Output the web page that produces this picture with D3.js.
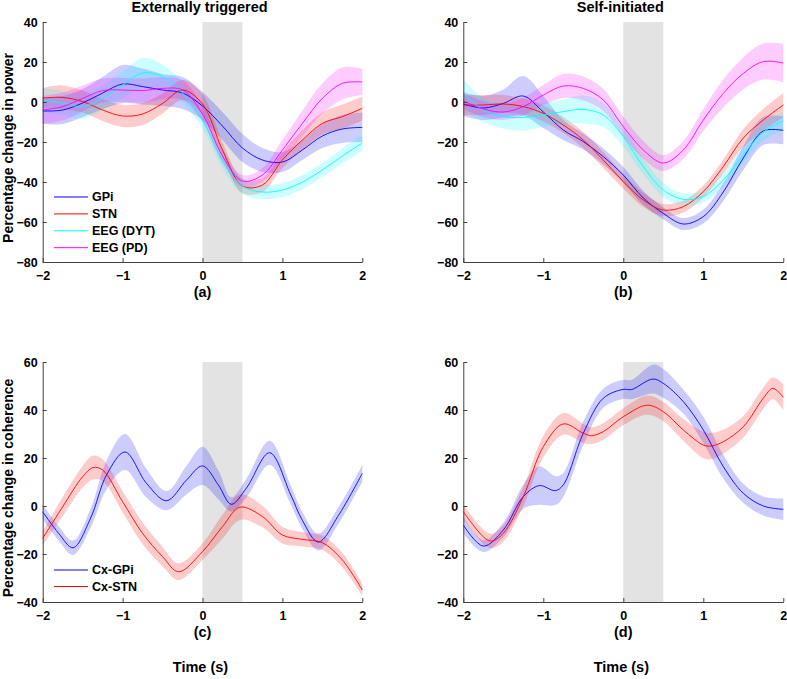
<!DOCTYPE html>
<html>
<head>
<meta charset="utf-8">
<script src="https://cdn.jsdelivr.net/npm/d3@7"></script>
<style>
  body { margin: 0; background: #fff; }
  svg { display: block; }
  text { font-family: "Liberation Sans", Arial, Helvetica, sans-serif; font-weight: bold; fill: #000; }
</style>
</head>
<body>
<svg id="chart" width="787" height="679"></svg>
<script>
// ---------------- DATA ----------------
const xTicks = [-2, -1, 0, 1, 2];
const powerTicks = [-80, -60, -40, -20, 0, 20, 40];
const cohTicks = [-40, -20, 0, 20, 40, 60];
const movementWindow = [0, 0.5];

const panelTitles = ["Externally triggered", "Self-initiated"];
const panelLetters = ["(a)", "(b)", "(c)", "(d)"];
const powerLabel = "Percentage change in power";
const cohLabel = "Percentage change in coherence";
const timeLabel = "Time (s)";

const powerNames = ["GPi", "STN", "EEG (DYT)", "EEG (PD)"];
const cohNames = ["Cx-GPi", "Cx-STN"];

// Power panels share one time grid
const timePow = [-2, -1.75, -1.5, -1.25, -1, -0.75, -0.5, -0.25, 0, 0.25, 0.5, 0.75, 1, 1.25, 1.5, 1.75, 2];

// (a) Externally triggered
const gpiA     = [-4.5, -4, -0.5, 4.5, 9, 7.7, 6, 4.5, -2, -12, -23, -29, -30, -24, -17, -13.5, -12.7];
const gpiAErr  = [6.5, 7, 7, 8, 9.5, 9, 8, 8, 7, 7, 7, 6, 5, 5, 6, 7, 7.5];
const stnA     = [2, 2.3, 0.2, -4, -7, -6, -0.7, 6, -1, -24, -42, -41.5, -29, -19, -10.7, -7.3, -3.2];
const stnAErr  = [5, 6, 5.5, 5.5, 5.5, 5.5, 5, 5, 5, 4, 3.5, 3.5, 4, 5, 5.5, 6, 6];
const dytA     = [1, -0.5, -2.3, 2, 8.5, 14.5, 12.7, 4.5, -9, -29, -42, -45, -44, -40, -34, -27, -20.5];
const dytAErr  = [6, 6, 6, 6, 6.5, 7.5, 6, 5, 4, 4, 4, 3.5, 3.5, 3.5, 3.5, 3.8, 4];
const pdA      = [-4, -2.3, 1.8, 5.7, 6, 5.7, 6.8, 6, -6, -27, -39.5, -36.5, -24, -10.7, 1.8, 9.3, 10];
const pdAErr   = [7, 7, 6.5, 6, 6, 6, 5.5, 5, 4, 3.5, 3, 3.5, 5, 6.5, 7.5, 8, 6.5];

// (b) Self-initiated
const gpiB     = [-1, -3, -0.7, 3, -5, -14, -19.8, -27.3, -36.5, -48, -55.7, -61, -57.3, -45, -28, -14.5, -14.2];
const gpiBErr  = [6, 6, 7, 10, 8, 5, 4, 4, 4, 3.5, 3, 3, 3.5, 4.5, 6, 7, 7];
const stnB     = [-1.5, -1.5, -1, -2.3, -5.7, -11.5, -19, -29, -39.8, -49, -54, -52.3, -44.8, -32.3, -18, -9, -1.5];
const stnBErr  = [5, 5, 4.5, 4, 4, 4, 4, 4, 3.5, 3.5, 3, 3, 3, 3.5, 4.5, 5.5, 6];
const dytB     = [4.3, -4, -7.3, -7.7, -6.5, -4.8, -3.7, -6.5, -17.3, -32.3, -44, -48.7, -47.3, -39, -26.5, -15, -9.5];
const dytBErr  = [7, 6, 6, 6.5, 6, 6, 7, 6, 5, 4, 3.5, 3, 3, 3.5, 4, 4.5, 4.5];
const pdB      = [0.5, -3.5, -5, -2.3, 3.5, 8, 6.8, 1, -12.3, -24, -30.5, -24, -9, 4.3, 14.3, 20.2, 19.5];
const pdBErr   = [4, 4, 4, 4.5, 5, 6, 6, 5.5, 5, 4.5, 4, 4.5, 5.5, 7, 8, 9, 9.5];

// (c) Externally triggered coherence
const cxGpiCT   = [-2, -1.8, -1.62, -1.4, -1.2, -0.97, -0.7, -0.45, -0.2, 0, 0.2, 0.36, 0.55, 0.84, 1.1, 1.25, 1.45, 1.7, 2];
const cxGpiC    = [-2.4, -11.4, -17.4, -5, 13, 22.5, 9.4, 2.2, 10.8, 16.7, 8.7, 0.7, 7.5, 22.2, 5, -6, -15, -4, 13.6];
const cxGpiCErr = [3, 3, 3, 4, 6, 7.5, 6, 4, 6, 8, 6, 3, 4, 5, 4, 3.5, 3.5, 3.5, 3.5];
const cxStnCT   = [-2, -1.75, -1.5, -1.37, -1.25, -1, -0.75, -0.5, -0.3, 0, 0.25, 0.47, 0.75, 1, 1.25, 1.5, 1.75, 2];
const cxStnC    = [-13.5, -0.3, 12.2, 16, 15, 1.8, -11.4, -21.1, -27.4, -19, -8.6, -0.5, -4.4, -12.1, -13.9, -15.3, -22.5, -35];
const cxStnCErr = [3, 4, 4.5, 5, 4.5, 4.5, 4.5, 4, 3.5, 3.5, 5, 5.3, 4.5, 3.5, 3, 3, 3, 2.5];

// (d) Self-initiated coherence
const cxGpiDT   = [-2, -1.75, -1.5, -1.25, -1.05, -0.85, -0.75, -0.5, -0.25, 0, 0.1, 0.37, 0.5, 0.75, 1, 1.25, 1.5, 1.75, 2];
const cxGpiD    = [-7.9, -16.7, -10, 3.9, 8.5, 6.4, 8.8, 30.3, 44.9, 48.6, 48.5, 52.9, 51.1, 43.5, 31.7, 16.4, 5.3, 0, -1.4];
const cxGpiDErr = [3.5, 2.5, 3, 5, 8, 6, 5, 5, 4, 4, 4, 6, 6, 5, 5.5, 5, 4, 4, 4.5];
const cxStnDT   = [-2, -1.75, -1.65, -1.5, -1.25, -1, -0.75, -0.5, -0.4, -0.25, 0, 0.3, 0.5, 0.75, 1, 1.1, 1.25, 1.5, 1.75, 1.87, 2];
const cxStnD    = [-2.4, -12.8, -14.6, -11.4, 3.9, 24.7, 34.2, 30.3, 29.3, 31, 37.2, 42, 39.3, 31.7, 25.4, 25, 26.8, 33, 44.9, 49, 45.3];
const cxStnDErr = [3, 3, 3, 3.5, 4, 4.5, 4.5, 4, 3.5, 3.5, 3.5, 4, 4, 4.5, 5.5, 5.5, 5, 4.5, 4.5, 4.5, 5.5];

// ---------------- STYLE ----------------
const colBlue = "#0000ff", colRed = "#ff0000", colCyan = "#00ffff", colMag = "#ff00ff";
const bandOpacity = 0.2;
const axisColor = "#404040";

const svg = d3.select("#chart");

function zipSeries(t, v, e) { return t.map((tt, i) => ({ t: tt, v: v[i], e: e[i] })); }

const panels = [
  { x0: 42.7, x1: 362.3, y0: 22, y1: 262, dom: [-80, 40], ticks: powerTicks,
    series: [
      { d: zipSeries(timePow, gpiA, gpiAErr), c: colBlue },
      { d: zipSeries(timePow, stnA, stnAErr), c: colRed },
      { d: zipSeries(timePow, dytA, dytAErr), c: colCyan },
      { d: zipSeries(timePow, pdA, pdAErr), c: colMag } ] },
  { x0: 463.3, x1: 783.3, y0: 22, y1: 262, dom: [-80, 40], ticks: powerTicks,
    series: [
      { d: zipSeries(timePow, gpiB, gpiBErr), c: colBlue },
      { d: zipSeries(timePow, stnB, stnBErr), c: colRed },
      { d: zipSeries(timePow, dytB, dytBErr), c: colCyan },
      { d: zipSeries(timePow, pdB, pdBErr), c: colMag } ] },
  { x0: 42.7, x1: 362.3, y0: 362, y1: 602, dom: [-40, 60], ticks: cohTicks,
    series: [
      { d: zipSeries(cxGpiCT, cxGpiC, cxGpiCErr), c: colBlue },
      { d: zipSeries(cxStnCT, cxStnC, cxStnCErr), c: colRed } ] },
  { x0: 463.3, x1: 783.3, y0: 362, y1: 602, dom: [-40, 60], ticks: cohTicks,
    series: [
      { d: zipSeries(cxGpiDT, cxGpiD, cxGpiDErr), c: colBlue },
      { d: zipSeries(cxStnDT, cxStnD, cxStnDErr), c: colRed } ] }
];

const curve = d3.curveCatmullRom.alpha(0.5);

panels.forEach((p, pi) => {
  const x = d3.scaleLinear().domain([-2, 2]).range([p.x0, p.x1]);
  const y = d3.scaleLinear().domain(p.dom).range([p.y1, p.y0]);
  const g = svg.append("g");

  // movement window shading
  g.append("rect")
    .attr("x", x(movementWindow[0])).attr("y", y(p.dom[1]))
    .attr("width", x(movementWindow[1]) - x(movementWindow[0]))
    .attr("height", y(p.dom[0]) - y(p.dom[1]))
    .attr("fill", "#e3e3e3");

  const area = d3.area().curve(curve)
    .x(d => x(d.t)).y0(d => y(d.v - d.e)).y1(d => y(d.v + d.e));
  const line = d3.line().curve(curve).x(d => x(d.t)).y(d => y(d.v));

  p.series.forEach(s => {
    g.append("path").attr("d", area(s.d)).attr("fill", s.c).attr("fill-opacity", bandOpacity).attr("stroke", "none");
  });
  p.series.forEach(s => {
    g.append("path").attr("d", line(s.d)).attr("fill", "none").attr("stroke", s.c).attr("stroke-width", 0.9);
  });

  // axes (left & bottom only, inward ticks)
  const ax = g.append("g").attr("transform", `translate(0,${p.y1})`)
    .call(d3.axisBottom(x).tickValues(xTicks).tickFormat(d3.format("d"))
      .tickSizeInner(-4).tickSizeOuter(0).tickPadding(9));
  const ay = g.append("g").attr("transform", `translate(${p.x0},0)`)
    .call(d3.axisLeft(y).tickValues(p.ticks).tickFormat(d3.format("d"))
      .tickSizeInner(-4).tickSizeOuter(0).tickPadding(5));
  [ax, ay].forEach(a => {
    a.select(".domain").attr("stroke", axisColor).attr("stroke-width", 1);
    a.selectAll(".tick line").attr("stroke", axisColor);
    a.selectAll(".tick text").attr("fill", "#000")
      .style("font-family", '"Liberation Sans", Arial, sans-serif')
      .style("font-weight", "bold").style("font-size", "12.5px");
  });

  // panel letter
  const cx = (p.x0 + p.x1) / 2;
  svg.append("text").attr("x", cx).attr("y", p.y1 + 35).attr("text-anchor", "middle")
    .style("font-size", "14.5px").text(panelLetters[pi]);
  if (pi >= 2) {
    svg.append("text").attr("x", cx - 2).attr("y", 672).attr("text-anchor", "middle")
      .style("font-size", "14.5px").text(timeLabel);
  } else {
    svg.append("text").attr("x", cx - 3).attr("y", 12).attr("text-anchor", "middle")
      .style("font-size", "14.5px").text(panelTitles[pi]);
  }
});

// y labels
svg.append("text").attr("transform", "translate(13,148) rotate(-90)").attr("text-anchor", "middle")
  .style("font-size", "14px").text(powerLabel);
svg.append("text").attr("transform", "translate(13,488) rotate(-90)").attr("text-anchor", "middle")
  .style("font-size", "14px").text(cohLabel);

// legends
function legend(names, colors, y0, dy) {
  names.forEach((n, i) => {
    const yy = y0 + i * dy;
    svg.append("line").attr("x1", 54).attr("x2", 88).attr("y1", yy).attr("y2", yy)
      .attr("stroke", colors[i]).attr("stroke-width", 1);
    svg.append("text").attr("x", 92).attr("y", yy).attr("dy", "0.35em")
      .style("font-size", "12.5px").text(n);
  });
}
legend(powerNames, [colBlue, colRed, colCyan, colMag], 197, 16.9);
legend(cohNames, [colBlue, colRed], 570, 16.5);
</script>
</body>
</html>
